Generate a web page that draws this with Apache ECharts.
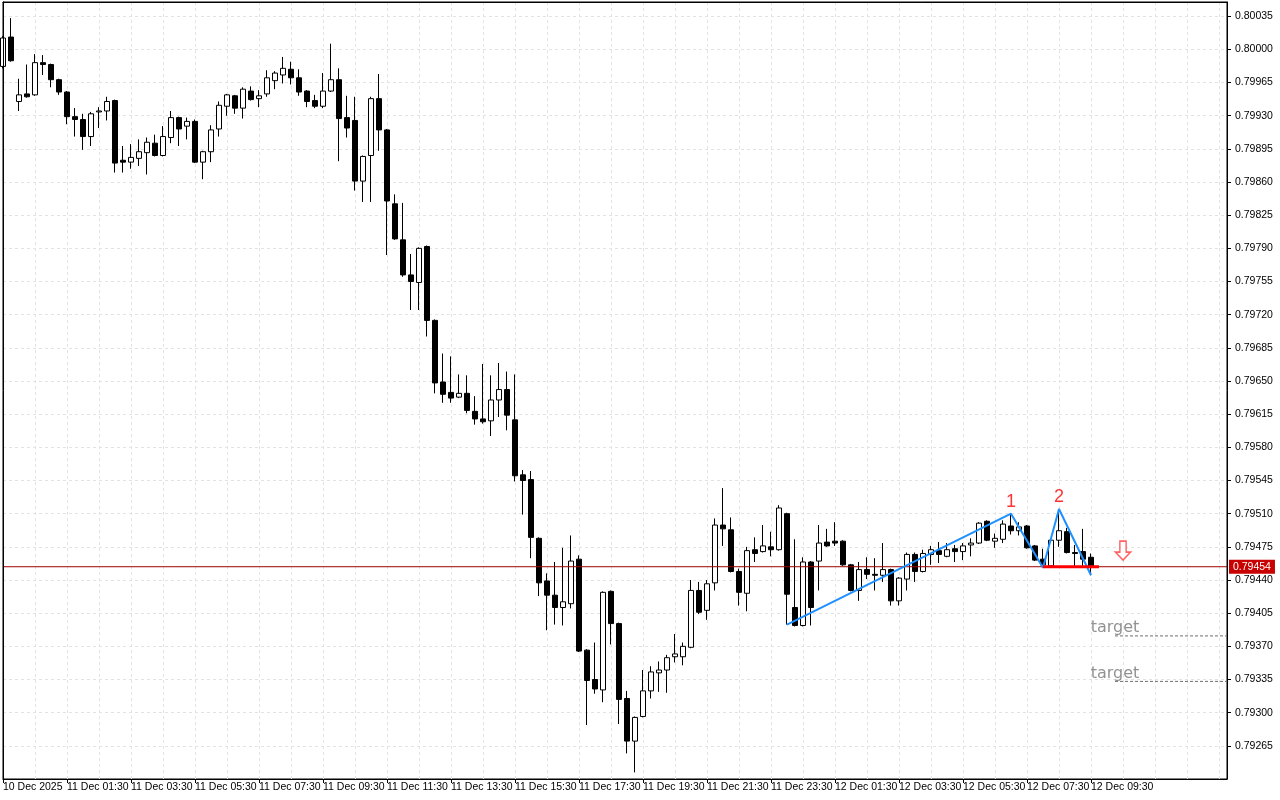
<!DOCTYPE html>
<html>
<head>
<meta charset="utf-8">
<title>M15 double top</title>
<script src="https://cdn.jsdelivr.net/npm/echarts@6/dist/echarts.min.js"></script>
<style>
html, body { margin: 0; padding: 0; background: #fff; }
#chart { width: 1280px; height: 800px; }
</style>
</head>
<body>
<div id="chart"></div>
<script>
// 15 minute candles, 10 Dec 2025 23:30 .. 12 Dec 2025 09:30
const opens = [
  0.79982, 0.80013, 0.79945, 0.79953, 0.79952, 0.79986, 0.79984, 0.79968, 0.79955, 0.79929,
  0.79926, 0.79908, 0.79934, 0.79935, 0.79946, 0.79883, 0.79881, 0.79885, 0.79891, 0.79901,
  0.79888, 0.79907, 0.79928, 0.79919, 0.79924, 0.79881, 0.79892, 0.79916, 0.79940, 0.79951,
  0.79938, 0.79956, 0.79948, 0.79953, 0.79967, 0.79973, 0.79979, 0.79970, 0.79956, 0.79946,
  0.79940, 0.79956, 0.79968, 0.79928, 0.79925, 0.79861, 0.79888, 0.79948, 0.79915, 0.79837,
  0.79799, 0.79762, 0.79754, 0.79792, 0.79714, 0.79649, 0.79638, 0.79633, 0.79637, 0.79618,
  0.79610, 0.79608, 0.79630, 0.79641, 0.79609, 0.79551, 0.79546, 0.79484, 0.79439, 0.79424,
  0.79411, 0.79415, 0.79462, 0.79366, 0.79335, 0.79324, 0.79428, 0.79394, 0.79315, 0.79270,
  0.79296, 0.79323, 0.79342, 0.79345, 0.79359, 0.79359, 0.79369, 0.79429, 0.79408, 0.79437,
  0.79498, 0.79493, 0.79449, 0.79426, 0.79472, 0.79470, 0.79475, 0.79472, 0.79510, 0.79411,
  0.79392, 0.79459, 0.79460, 0.79480, 0.79481, 0.79481, 0.79456, 0.79429, 0.79451, 0.79446,
  0.79445, 0.79451, 0.79418, 0.79441, 0.79467, 0.79449, 0.79467, 0.79471, 0.79465, 0.79473,
  0.79470, 0.79477, 0.79479, 0.79502, 0.79481, 0.79483, 0.79497, 0.79492, 0.79497, 0.79476,
  0.79462, 0.79455, 0.79482, 0.79491, 0.79469, 0.79470, 0.79464
];
const highs = [
  0.80014, 0.80033, 0.79969, 0.79984, 0.79995, 0.79994, 0.79985, 0.79969, 0.79956, 0.79938,
  0.79932, 0.79934, 0.79939, 0.79950, 0.79947, 0.79898, 0.79900, 0.79905, 0.79907, 0.79910,
  0.79919, 0.79935, 0.79929, 0.79928, 0.79926, 0.79893, 0.79920, 0.79945, 0.79953, 0.79952,
  0.79960, 0.79961, 0.79957, 0.79978, 0.79977, 0.79992, 0.79987, 0.79979, 0.79957, 0.79952,
  0.79975, 0.80006, 0.79980, 0.79951, 0.79950, 0.79888, 0.79950, 0.79974, 0.79916, 0.79847,
  0.79838, 0.79784, 0.79791, 0.79793, 0.79715, 0.79679, 0.79676, 0.79657, 0.79656, 0.79634,
  0.79668, 0.79656, 0.79669, 0.79660, 0.79657, 0.79556, 0.79555, 0.79485, 0.79447, 0.79459,
  0.79474, 0.79487, 0.79466, 0.79367, 0.79374, 0.79428, 0.79429, 0.79395, 0.79323, 0.79296,
  0.79345, 0.79349, 0.79354, 0.79361, 0.79383, 0.79374, 0.79440, 0.79438, 0.79440, 0.79505,
  0.79537, 0.79506, 0.79452, 0.79475, 0.79485, 0.79498, 0.79491, 0.79519, 0.79511, 0.79483,
  0.79464, 0.79460, 0.79498, 0.79494, 0.79501, 0.79482, 0.79457, 0.79459, 0.79464, 0.79463,
  0.79479, 0.79452, 0.79443, 0.79469, 0.79469, 0.79472, 0.79476, 0.79480, 0.79479, 0.79477,
  0.79479, 0.79484, 0.79501, 0.79503, 0.79489, 0.79503, 0.79510, 0.79501, 0.79498, 0.79477,
  0.79473, 0.79483, 0.79515, 0.79495, 0.79477, 0.79494, 0.79468
];
const lows = [
  0.79980, 0.79987, 0.79935, 0.79949, 0.79951, 0.79973, 0.79960, 0.79952, 0.79921, 0.79908,
  0.79894, 0.79898, 0.79917, 0.79925, 0.79870, 0.79870, 0.79874, 0.79877, 0.79868, 0.79887,
  0.79887, 0.79901, 0.79898, 0.79905, 0.79880, 0.79863, 0.79881, 0.79908, 0.79930, 0.79932,
  0.79927, 0.79946, 0.79939, 0.79950, 0.79958, 0.79964, 0.79963, 0.79951, 0.79939, 0.79938,
  0.79938, 0.79955, 0.79882, 0.79907, 0.79851, 0.79839, 0.79839, 0.79893, 0.79783, 0.79799,
  0.79760, 0.79725, 0.79725, 0.79697, 0.79637, 0.79627, 0.79627, 0.79632, 0.79616, 0.79604,
  0.79605, 0.79592, 0.79612, 0.79598, 0.79544, 0.79509, 0.79463, 0.79423, 0.79387, 0.79393,
  0.79392, 0.79410, 0.79364, 0.79287, 0.79320, 0.79311, 0.79372, 0.79288, 0.79257, 0.79237,
  0.79295, 0.79315, 0.79322, 0.79321, 0.79353, 0.79350, 0.79368, 0.79404, 0.79398, 0.79429,
  0.79476, 0.79448, 0.79413, 0.79407, 0.79459, 0.79469, 0.79465, 0.79471, 0.79393, 0.79391,
  0.79391, 0.79392, 0.79429, 0.79475, 0.79476, 0.79455, 0.79428, 0.79418, 0.79441, 0.79429,
  0.79438, 0.79413, 0.79413, 0.79429, 0.79438, 0.79448, 0.79456, 0.79458, 0.79464, 0.79459,
  0.79461, 0.79465, 0.79478, 0.79481, 0.79474, 0.79479, 0.79488, 0.79487, 0.79473, 0.79460,
  0.79453, 0.79454, 0.79475, 0.79468, 0.79455, 0.79453, 0.79445
];
const closes = [
  0.80012, 0.79988, 0.79952, 0.79950, 0.79986, 0.79984, 0.79968, 0.79955, 0.79929, 0.79926,
  0.79908, 0.79932, 0.79935, 0.79945, 0.79880, 0.79881, 0.79886, 0.79892, 0.79902, 0.79888,
  0.79908, 0.79928, 0.79916, 0.79924, 0.79881, 0.79892, 0.79915, 0.79941, 0.79952, 0.79938,
  0.79958, 0.79947, 0.79951, 0.79970, 0.79975, 0.79980, 0.79970, 0.79955, 0.79945, 0.79940,
  0.79956, 0.79968, 0.79927, 0.79917, 0.79861, 0.79887, 0.79948, 0.79915, 0.79840, 0.79800,
  0.79762, 0.79755, 0.79790, 0.79714, 0.79648, 0.79636, 0.79632, 0.79637, 0.79619, 0.79610,
  0.79607, 0.79630, 0.79641, 0.79614, 0.79550, 0.79545, 0.79485, 0.79437, 0.79424, 0.79411,
  0.79417, 0.79460, 0.79365, 0.79334, 0.79325, 0.79427, 0.79394, 0.79314, 0.79270, 0.79295,
  0.79323, 0.79343, 0.79345, 0.79358, 0.79362, 0.79370, 0.79429, 0.79406, 0.79436, 0.79498,
  0.79494, 0.79449, 0.79427, 0.79471, 0.79468, 0.79476, 0.79472, 0.79516, 0.79425, 0.79392,
  0.79459, 0.79411, 0.79479, 0.79476, 0.79479, 0.79456, 0.79429, 0.79451, 0.79446, 0.79445,
  0.79451, 0.79418, 0.79442, 0.79467, 0.79449, 0.79468, 0.79472, 0.79467, 0.79472, 0.79470,
  0.79476, 0.79479, 0.79500, 0.79482, 0.79484, 0.79499, 0.79492, 0.79496, 0.79474, 0.79461,
  0.79456, 0.79482, 0.79492, 0.79469, 0.79468, 0.79462, 0.79454
];

// labels under every 8th bar (2 hours)
const tickLabels = [
  '10 Dec 2025', '11 Dec 01:30', '11 Dec 03:30', '11 Dec 05:30', '11 Dec 07:30', '11 Dec 09:30',
  '11 Dec 11:30', '11 Dec 13:30', '11 Dec 15:30', '11 Dec 17:30', '11 Dec 19:30', '11 Dec 21:30',
  '11 Dec 23:30', '12 Dec 01:30', '12 Dec 03:30', '12 Dec 05:30', '12 Dec 07:30', '12 Dec 09:30'
];

// double top drawing: [bar index, price]
const zigzag = [[98, 0.79393], [126, 0.79510], [130, 0.79453], [132, 0.79515], [136, 0.79445]];
const peakMarks = [[126, 0.79510, '1'], [132, 0.79515, '2']];
const neckline = [[130, 0.79454], [137, 0.79454]];
const targets = [0.79381, 0.79333];
const arrowPoint = [140, 0.79471];
const lastPrice = 0.79454;

const totalSlots = 154; // bars plus empty space on the right
const categories = [];
const start = Date.UTC(2025, 11, 10, 23, 30);
for (let i = 0; i < totalSlots; i++) {
    const d = new Date(start + i * 15 * 60000);
    categories.push(d.toISOString().slice(0, 16));
}

const candles = opens.map((o, i) => [o, closes[i], lows[i], highs[i]]);

const axisFont = "'Liberation Sans Narrow', 'Liberation Sans', sans-serif";
const gridLine = { color: '#e3e3e3', type: [3, 3], width: 1 };

const targetSeries = [];
targets.forEach(t => {
    targetSeries.push({
        type: 'line',
        data: [[139, t], [totalSlots - 1, t]],
        symbol: 'none',
        lineStyle: { color: '#6e6e6e', width: 1, type: [3, 2] },
        silent: true,
        z: 4
    });
});

const chart = echarts.init(document.getElementById('chart'));
chart.setOption({
    animation: false,
    backgroundColor: '#fff',
    grid: {
        left: 2, right: 53, top: 2, bottom: 21,
        show: true, borderColor: '#000', borderWidth: 1, backgroundColor: '#fff'
    },
    xAxis: [
        {
            type: 'category',
            data: categories,
            boundaryGap: false,
            axisLine: { lineStyle: { color: '#000', width: 1 } },
            axisTick: {
                interval: i => i % 8 === 0 && i <= 136,
                length: 4,
                lineStyle: { color: '#000' }
            },
            axisLabel: {
                interval: i => i % 8 === 0 && i <= 136,
                formatter: (v, i) => tickLabels[i / 8] || '',
                align: 'left',
                margin: 3,
                color: '#000',
                fontSize: 10.5,
                fontFamily: axisFont
            },
            splitLine: { show: true, interval: i => i % 4 === 0 && i > 0, lineStyle: gridLine }
        },
        {
            // top frame line
            type: 'category',
            data: categories,
            boundaryGap: false,
            position: 'top',
            axisLine: { show: true, lineStyle: { color: '#000', width: 1 } },
            axisTick: { show: false },
            axisLabel: { show: false },
            splitLine: { show: false },
            z: 10
        }
    ],
    yAxis: [
        {
            type: 'value',
            position: 'right',
            min: 0.79230,
            max: 0.80050,
            interval: 0.00035,
            axisLine: { show: true, lineStyle: { color: '#000', width: 1 } },
            axisTick: { show: true, length: 4, lineStyle: { color: '#000' } },
            axisLabel: {
                showMinLabel: false,
                showMaxLabel: false,
                formatter: v => v.toFixed(5),
                margin: 8,
                color: '#000',
                fontSize: 10.5,
                fontFamily: axisFont
            },
            splitLine: { show: true, showMinLine: false, showMaxLine: false, lineStyle: gridLine }
        },
        {
            // left frame line
            type: 'value',
            position: 'left',
            min: 0.79230,
            max: 0.80050,
            axisLine: { show: true, lineStyle: { color: '#000', width: 1 } },
            axisTick: { show: false },
            axisLabel: { show: false },
            splitLine: { show: false },
            z: 10
        }
    ],
    series: [
        {
            type: 'candlestick',
            data: candles,
            barWidth: 5,
            itemStyle: {
                color: '#ffffff',
                color0: '#000000',
                borderColor: '#000000',
                borderColor0: '#000000',
                borderWidth: 1
            },
            z: 3
        },
        {
            // current price line with its tag on the price scale
            type: 'line',
            data: [[0, lastPrice], [totalSlots - 1, lastPrice]],
            symbol: 'none',
            silent: true,
            lineStyle: { color: '#a00000', width: 1 },
            endLabel: {
                show: true,
                formatter: lastPrice.toFixed(5),
                color: '#fff',
                backgroundColor: '#c80000',
                padding: [2, 4, 1, 4],
                distance: 2,
                fontSize: 10.5,
                fontFamily: axisFont
            },
            z: 4
        },
        {
            type: 'line',
            data: zigzag,
            symbol: 'none',
            lineStyle: { color: '#1e90ff', width: 2 },
            silent: true,
            z: 5
        },
        {
            type: 'line',
            data: neckline,
            symbol: 'none',
            lineStyle: { color: '#ff0000', width: 3 },
            silent: true,
            z: 6
        },
        {
            type: 'scatter',
            data: peakMarks.map(p => ({ value: [p[0], p[1]], name: p[2] })),
            symbolSize: 0,
            silent: true,
            label: {
                show: true,
                position: 'top',
                distance: 3,
                formatter: p => p.name,
                color: '#ff0000',
                fontSize: 18,
                fontFamily: "'Liberation Sans', sans-serif"
            },
            z: 7
        },
        ...targetSeries,
        {
            type: 'scatter',
            data: targets.map(t => [139, t]),
            symbolSize: 0,
            silent: true,
            label: {
                show: true,
                position: 'top',
                distance: 0,
                formatter: 'target',
                color: '#777777',
                fontSize: 16,
                fontFamily: "'DejaVu Sans', sans-serif"
            },
            z: 7
        },
        {
            type: 'scatter',
            data: [arrowPoint],
            symbol: 'path://M5,0 L12,0 L12,11 L17,11 L8.5,19 L0,11 L5,11 Z',
            symbolSize: [17, 19],
            symbolKeepAspect: true,
            silent: true,
            itemStyle: { color: '#ffffff', borderColor: '#ff3b3b', borderWidth: 1.5 },
            z: 7
        }
    ]
});
</script>
</body>
</html>
